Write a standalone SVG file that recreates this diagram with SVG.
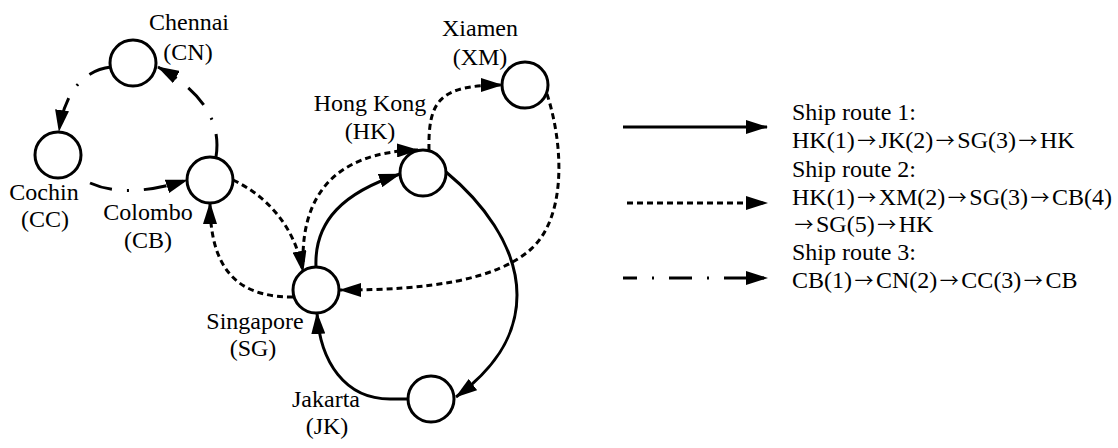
<svg xmlns="http://www.w3.org/2000/svg" width="1118" height="448" viewBox="0 0 1118 448">
  <style>
    .port { fill: #fff; stroke: #000; stroke-width: 3; }
    .lbl { font-family: "Liberation Serif", "Times New Roman", serif; font-size: 24px; fill: #000; }
    .arr { font-family: "Noto Sans CJK JP", "DejaVu Serif", serif; font-size: 19px; letter-spacing: 2.5px; }
    .mid { text-anchor: middle; }
    .edge { fill: none; stroke: #000; stroke-width: 3; marker-end: url(#arrow); }
    .r2 { stroke-dasharray: 6 4; }
    .r3 { stroke-dasharray: 23 15 2 15; }
  </style>
  <defs>
    <marker id="arrow" viewBox="0 0 22 14" refX="21" refY="7" markerWidth="22" markerHeight="14" markerUnits="userSpaceOnUse" orient="auto">
      <path d="M0,0 L22,7 L0,14 z" fill="#000"/>
    </marker>
  </defs>

  <rect width="1118" height="448" fill="#fff"/>

  <!-- connectors -->
  <g id="connectors">
    <!-- route 1 (solid): HK -> JK -> SG -> HK -->
    <path class="edge" d="M446 172 C480 200, 517 245, 517 295 C517 340, 490 372, 456 397"/>
    <path class="edge" d="M408 399 L390 399 C345 399, 320 362, 317 313"/>
    <path class="edge" d="M316 267 C314 220, 345 192, 400 174"/>
    <!-- route 2 (dotted): HK -> XM -> SG -> CB -> SG -> HK -->
    <path class="edge r2" d="M429 150 C428 100, 440 85, 502 85"/>
    <path class="edge r2" d="M547 94 C565 150, 565 220, 530 250 C495 280, 430 290, 340 290"/>
    <path class="edge r2" d="M293 297 C250 297, 210 282, 210 203"/>
    <path class="edge r2" d="M233 180 C265 195, 295 225, 303 272"/>
    <path class="edge r2" d="M303 262 C302 200, 330 152, 418 150"/>
    <!-- route 3 (dash-dot): CB -> CN -> CC -> CB -->
    <path class="edge r3" d="M216 157 C222 120, 200 90, 158 67"/>
    <path class="edge r3" d="M111 67 C85 70, 65 90, 59 131"/>
    <path class="edge r3" d="M90 183 C110 192, 140 195, 187 180"/>
  </g>

  <!-- ports -->
  <g id="node-CN"><circle class="port" cx="133" cy="63" r="23"/>
    <text class="lbl mid" x="189" y="30">Chennai</text><text class="lbl mid" x="188" y="60">(CN)</text></g>
  <g id="node-CC"><circle class="port" cx="58" cy="155" r="23"/>
    <text class="lbl mid" x="44" y="200">Cochin</text><text class="lbl mid" x="45" y="227">(CC)</text></g>
  <g id="node-CB"><circle class="port" cx="210" cy="180" r="23"/>
    <text class="lbl mid" x="148" y="220">Colombo</text><text class="lbl mid" x="148" y="248">(CB)</text></g>
  <g id="node-SG"><circle class="port" cx="316" cy="290" r="23"/>
    <text class="lbl mid" x="255" y="329">Singapore</text><text class="lbl mid" x="253" y="356">(SG)</text></g>
  <g id="node-HK"><circle class="port" cx="423" cy="173" r="23"/>
    <text class="lbl mid" x="370" y="111">Hong Kong</text><text class="lbl mid" x="370" y="139">(HK)</text></g>
  <g id="node-XM"><circle class="port" cx="525" cy="85" r="23"/>
    <text class="lbl mid" x="480" y="36">Xiamen</text><text class="lbl mid" x="480" y="65">(XM)</text></g>
  <g id="node-JK"><circle class="port" cx="431" cy="399" r="23"/>
    <text class="lbl mid" x="326" y="407">Jakarta</text><text class="lbl mid" x="327" y="434">(JK)</text></g>

  <!-- legend -->
  <g id="legend">
    <line class="edge" x1="623" y1="127" x2="767" y2="127"/>
    <line class="edge r2" x1="627" y1="203" x2="767" y2="203"/>
    <line class="edge r3" x1="623" y1="278" x2="767" y2="278" stroke-dashoffset="9"/>
    <text class="lbl" x="792" y="120">Ship route 1:</text>
    <text class="lbl" x="792" y="148">HK(1)<tspan class="arr" dx="2.5">→</tspan>JK(2)<tspan class="arr" dx="2.5">→</tspan>SG(3)<tspan class="arr" dx="2.5">→</tspan>HK</text>
    <text class="lbl" x="792" y="177">Ship route 2:</text>
    <text class="lbl" x="792" y="205">HK(1)<tspan class="arr" dx="2.5">→</tspan>XM(2)<tspan class="arr" dx="2.5">→</tspan>SG(3)<tspan class="arr" dx="2.5">→</tspan>CB(4)</text>
    <text class="lbl" x="792" y="232"><tspan class="arr" dx="2.5">→</tspan>SG(5)<tspan class="arr" dx="2.5">→</tspan>HK</text>
    <text class="lbl" x="792" y="260">Ship route 3:</text>
    <text class="lbl" x="792" y="288">CB(1)<tspan class="arr" dx="2.5">→</tspan>CN(2)<tspan class="arr" dx="2.5">→</tspan>CC(3)<tspan class="arr" dx="2.5">→</tspan>CB</text>
  </g>
</svg>
